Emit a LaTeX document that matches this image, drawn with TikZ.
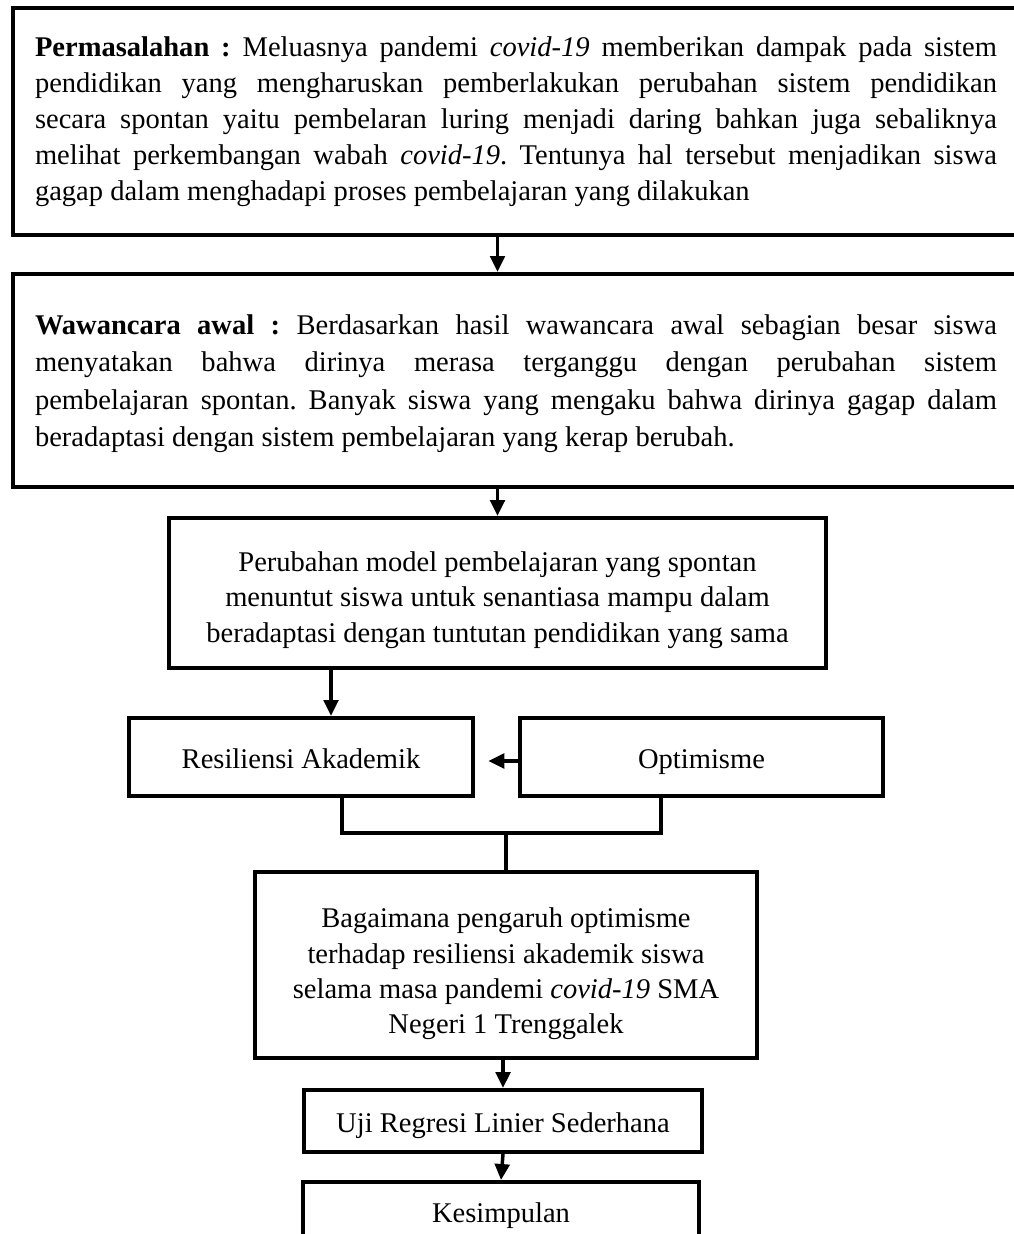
\documentclass[tikz,border=0pt]{standalone}
\usepackage{fontspec}
\setmainfont{Liberation Serif}
\usetikzlibrary{arrows.meta}

\tikzset{
  kotak/.style={draw, line width=3pt, inner sep=0pt,
    font=\fontsize{21.4pt}{26.5pt}\selectfont, align=center},
  satubaris/.style={kotak, text height=18pt, text depth=1pt},
  paragraf/.style={kotak, anchor=west, inner xsep=16.5pt, align=justify,
    text width=721.5pt, minimum height=#1},
  panah/.style={line width=2.6pt, -{Triangle[length=12pt,width=11pt]}},
  garis/.style={line width=2.6pt}
}

\begin{document}
\begin{tikzpicture}[x=0.75pt, y=-0.75pt]
    \frenchspacing
    \hyphenpenalty=10000 \exhyphenpenalty=10000
    \useasboundingbox (0,0) rectangle (1013,1234);

    % kotak paragraf atas
    \node[paragraf=170.25pt, font=\fontsize{21.4pt}{27pt}\selectfont] (masalah) at (11, 121.5)
        {\textbf{Permasalahan :} Meluasnya pandemi \textit{covid-19} memberikan dampak pada sistem\linebreak
         pendidikan yang mengharuskan pemberlakukan perubahan sistem pendidikan\linebreak
         secara spontan yaitu pembelaran luring menjadi daring bahkan juga sebaliknya\linebreak
         melihat perkembangan wabah \textit{covid-19}. Tentunya hal tersebut menjadikan siswa\linebreak
         gagap dalam menghadapi proses pembelajaran yang dilakukan};
    \node[paragraf=159.75pt, font=\fontsize{21.4pt}{28pt}\selectfont, text height=19.4pt] (wawancara) at (11, 380.5)
        {\textbf{Wawancara awal :} Berdasarkan hasil wawancara awal sebagian besar siswa\linebreak
         menyatakan bahwa dirinya merasa terganggu dengan perubahan sistem\linebreak
         pembelajaran spontan. Banyak siswa yang mengaku bahwa dirinya gagap dalam\linebreak
         beradaptasi dengan sistem pembelajaran yang kerap berubah.};

    % kotak tengah
    \node[kotak, minimum width=492.75pt, minimum height=112.5pt] (perubahan) at (497.5, 593)
        {\rule{0pt}{25.5pt}Perubahan model pembelajaran yang spontan\\
         menuntut siswa untuk senantiasa mampu dalam\\
         beradaptasi dengan tuntutan pendidikan yang sama};
    \node[satubaris, minimum width=258pt, minimum height=58.5pt] (resiliensi) at (301, 757)
        {Resiliensi Akademik};
    \node[satubaris, minimum width=272.25pt, minimum height=58.5pt] (optimisme) at (701.5, 757)
        {Optimisme};
    \node[kotak, minimum width=376.5pt, minimum height=139.5pt] (rumusan) at (506, 965)
        {\rule{0pt}{28.5pt}Bagaimana pengaruh optimisme\\
         terhadap resiliensi akademik siswa\\
         selama masa pandemi \textit{covid-19} SMA\\
         Negeri 1 Trenggalek};
    \node[satubaris, minimum width=298.5pt, minimum height=46.5pt] (uji) at (503, 1121)
        {Uji Regresi Linier Sederhana};
    \node[satubaris, minimum width=297pt, minimum height=43.5pt] (simpulan) at (501, 1211)
        {Kesimpulan};

    \coordinate (kiri) at (331, 0);
    \coordinate (jl) at (342, 833);
    \coordinate (jr) at (661, 833);
    \coordinate (jm) at (506, 833);

    % panah
    \draw[panah] (masalah.south -| perubahan) -- (wawancara.north -| perubahan);
    \draw[panah] (wawancara.south -| perubahan) -- (perubahan.north);
    \draw[panah] (perubahan.south -| kiri) -- (resiliensi.north -| kiri);
    \draw[panah, shorten >=10pt] ([yshift=-3pt]optimisme.west) -- ([yshift=-3pt]resiliensi.east);
    \draw[garis] (resiliensi.south -| jl) -- (jl) -- (jr) -- (optimisme.south -| jr);
    \draw[garis] (jm) -- (rumusan.north -| jm);
    \draw[panah] (rumusan.south -| uji) -- (uji.north);
    \draw[panah] (uji.south) -- (simpulan.north);
\end{tikzpicture}
\end{document}
